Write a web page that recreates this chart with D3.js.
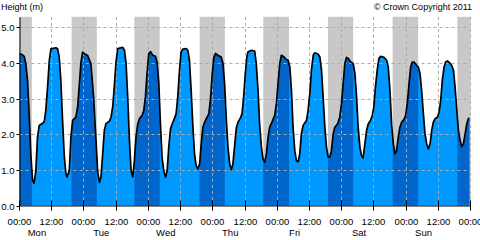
<!DOCTYPE html>
<html>
<head>
<meta charset="utf-8">
<script src="https://cdn.jsdelivr.net/npm/d3@7"></script>
<style>
  html, body { margin: 0; padding: 0; background: #fff; }
  svg { display: block; font-family: "Liberation Sans", Arial, sans-serif; }
</style>
</head>
<body>
<div id="chart"></div>
<script>
// tide curve, hours from Mon 00:00 and height in metres
const tideHours = [
  0, 1.0, 1.75, 2.35, 3.0, 3.6, 4.2, 4.85, 5.4, 6.1, 6.7, 7.35, 8.6, 9.2, 9.8, 10.45, 11.1, 11.7,
  13.55, 14.2, 14.8, 15.4, 16.05, 16.7, 17.3, 17.7, 18.55, 19.15, 19.8, 21.0, 21.65, 22.3, 22.9, 23.5,
  24.15, 25.4, 26.6, 27.6, 28.5, 29.1, 29.75, 30.35, 31.0, 31.6, 32.2, 33.5, 34.1, 34.7, 35.3, 35.95, 36.6,
  38.45, 39.1, 39.7, 40.3, 40.95, 41.55, 42.2, 42.8, 43.4, 44.05, 44.7, 45.65, 46.3, 46.9, 47.5, 48.15,
  48.8, 49.65, 50.65, 51.25, 51.9, 52.5, 53.1, 53.75, 54.4, 55.0, 55.6, 56.25, 56.85, 57.7, 58.35, 58.95,
  59.6, 60.2, 60.85, 62.1, 62.7, 63.3, 63.95, 64.6, 65.2, 65.8, 66.45, 67.1, 67.7, 68.3, 68.95, 69.9,
  70.55, 71.2, 71.8, 72.4, 73.05, 73.9, 75.15, 75.8, 76.4, 77.0, 77.65, 78.3, 78.9, 79.5, 80.2, 80.8,
  81.4, 82.3, 82.9, 83.5, 84.1, 84.7, 85.1, 86.35, 87.6, 88.2, 88.85, 89.45, 90.1, 90.7, 91.35, 91.95,
  92.6, 93.2, 94.05, 95.05, 95.7, 96.3, 96.95, 97.55, 98.55, 99.4, 100.05, 100.7, 101.3, 101.9, 102.55,
  103.15, 103.8, 104.4, 105.0, 105.65, 106.9, 107.5, 108.15, 108.75, 109.4, 110.0, 111.25, 111.9, 112.5,
  113.1, 113.75, 114.35, 115.0, 115.6, 116.2, 116.85, 117.45, 118.45, 119.3, 119.95, 120.55, 121.2,
  121.8, 122.45, 123.45, 124.3, 124.95, 125.55, 126.15, 126.8, 127.4, 128.0, 128.65, 129.3, 129.9,
  130.75, 131.4, 132.0, 132.6, 133.25, 133.9, 134.5, 135.5, 136.15, 136.75, 137.35, 138.0, 138.6,
  139.25, 139.85, 140.45, 141.1, 141.7, 142.35, 143.2, 143.85, 144.45, 145.1, 145.7, 146.3, 146.95,
  147.95, 148.55, 149.2, 149.8, 150.45, 151.05, 151.7, 152.3, 152.95, 153.55, 154.15, 154.8, 155.65,
  156.3, 156.9, 157.5, 158.15, 158.75, 159.4, 160.4, 161.0, 161.65, 162.25, 162.9, 163.5, 164.1,
  164.75, 165.35, 166.0, 166.6, 167.2, 167.6
]
const tideHeights = [
  4.26, 4.24, 4.19, 3.98, 3.51, 2.58, 1.46, 0.72, 0.62, 0.98, 1.92, 2.25, 2.31, 2.35, 2.67, 3.32, 4.07, 4.40,
  4.43, 4.40, 4.17, 3.51, 2.39, 1.36, 0.89, 0.80, 0.98, 1.92, 2.39, 2.48, 2.76, 3.42, 4.03, 4.31,
  4.26, 4.21, 3.98, 3.05, 1.83, 0.98, 0.65, 0.80, 1.46, 2.11, 2.30, 2.37, 2.48, 2.76, 3.33, 4.03, 4.41,
  4.44, 4.36, 3.99, 3.05, 1.83, 1.00, 0.80, 1.26, 1.92, 2.29, 2.44, 2.53, 2.67, 3.05, 3.70, 4.27,
  4.32, 4.22, 4.19, 4.03, 3.42, 2.29, 1.36, 0.98, 0.79, 0.98, 1.64, 2.15, 2.29, 2.44, 2.58, 3.05,
  3.80, 4.32, 4.39, 4.41, 4.36, 4.08, 3.23, 2.20, 1.45, 1.12, 1.03, 1.17, 1.73, 2.20, 2.34, 2.48,
  2.58, 3.05, 3.70, 4.17, 4.27, 4.22, 4.17, 3.99, 3.42, 2.48, 1.64, 1.17, 1.00, 1.17, 1.73, 2.20,
  2.34, 2.46, 2.58, 3.05, 3.70, 4.17, 4.31, 4.36, 4.34, 3.99, 3.23, 2.29, 1.64, 1.31, 1.21, 1.45,
  1.92, 2.20, 2.34, 2.53, 2.86, 3.42, 3.99, 4.22, 4.17, 4.10, 4.08, 3.89, 3.23, 2.20, 1.54,
  1.26, 1.23, 1.45, 2.01, 2.25, 2.39, 2.67, 3.14, 3.80, 4.22, 4.29, 4.25, 4.17, 3.80,
  3.05, 2.20, 1.64, 1.36, 1.36, 1.54, 2.01, 2.20, 2.29, 2.48, 2.86, 3.42, 3.99,
  4.16, 4.13, 4.03, 3.99, 3.70, 3.05, 2.20, 1.64, 1.40, 1.33, 1.73, 2.11, 2.29,
  2.39, 2.53, 2.77, 3.33, 3.80, 4.13, 4.19, 4.17, 4.13, 4.08, 3.89, 3.23, 2.29,
  1.73, 1.45, 1.54, 1.92, 2.20, 2.34, 2.41, 2.53, 2.86, 3.42, 3.89, 4.03, 4.03,
  3.94, 3.89, 3.70, 3.23, 2.58, 2.01, 1.73, 1.59, 1.73, 2.11, 2.34, 2.44, 2.48,
  2.62, 2.95, 3.52, 3.89, 4.03, 4.06, 3.99, 3.94, 3.80, 3.33, 2.67, 2.11, 1.83,
  1.66, 1.73, 2.01, 2.29, 2.44, 2.46
]

// darkness, hours from Mon 00:00
const nightStart = [0, 19.4, 42.8, 67.1, 90.8, 114.9, 139.0, 163.1]
const nightEnd = [4.6, 28.8, 52.2, 76.5, 100.4, 124.3, 148.5, 168]

const dayNames = ['Mon', 'Tue', 'Wed', 'Thu', 'Fri', 'Sat', 'Sun']
const tickHours = d3.range(0, 169, 12)
const yTicks = [0, 1, 2, 3, 4, 5]

const W = 480
const H = 240

const x = d3.scaleLinear().domain([0, 168]).range([19.5, 470.5])
const y = d3.scaleLinear().domain([0, 5.3]).range([205.5, 16.8])

const data = tideHours.map((t, i) => ({ t: t, h: tideHeights[i] }))
const nights = nightStart.map((s, i) => ({ s: s, e: nightEnd[i] }))

const svg = d3.select('#chart').append('svg')
    .attr('width', W)
    .attr('height', H)

// grey night bands behind everything
svg.append('g')
  .selectAll('rect')
  .data(nights)
  .join('rect')
    .attr('x', d => x(d.s))
    .attr('width', d => x(d.e) - x(d.s))
    .attr('y', y(5.3))
    .attr('height', y(0) - y(5.3))
    .attr('fill', '#c8c8c8')

const area = d3.area()
    .x(d => x(d.t))
    .y0(y(0))
    .y1(d => y(d.h))

const line = d3.line()
    .x(d => x(d.t))
    .y(d => y(d.h))

svg.append('clipPath')
    .attr('id', 'under')
  .append('path')
    .attr('d', area(data))

svg.append('path')
    .attr('d', area(data))
    .attr('fill', '#0099ff')

// night part of the water in darker blue
svg.append('g')
    .attr('clip-path', 'url(#under)')
  .selectAll('rect')
  .data(nights)
  .join('rect')
    .attr('x', d => x(d.s))
    .attr('width', d => x(d.e) - x(d.s))
    .attr('y', y(5.3))
    .attr('height', y(0) - y(5.3))
    .attr('fill', '#0066cc')

// dashed grid
const grid = svg.append('g')
    .attr('stroke', '#aaaaaa')
    .attr('stroke-width', 1)
    .attr('stroke-dasharray', '3,3')
grid.selectAll('.hg')
  .data(yTicks.slice(1))
  .join('line')
    .attr('x1', x(0)).attr('x2', x(168))
    .attr('y1', d => Math.round(y(d)) + 0.5)
    .attr('y2', d => Math.round(y(d)) + 0.5)
grid.selectAll('.vg')
  .data(tickHours.slice(1))
  .join('line')
    .attr('x1', d => Math.round(x(d) - 0.5) + 0.5)
    .attr('x2', d => Math.round(x(d) - 0.5) + 0.5)
    .attr('y1', y(5.3)).attr('y2', y(0))

svg.append('path')
    .attr('d', line(data))
    .attr('fill', 'none')
    .attr('stroke', '#000')
    .attr('stroke-width', 1.7)
    .attr('stroke-linejoin', 'round')

// axes
const yAxis = svg.append('g')
    .attr('transform', `translate(${x(0)},0)`)
    .call(d3.axisLeft(y).tickValues(yTicks).tickSize(3).tickSizeOuter(0).tickPadding(2)
      .tickFormat(d3.format('.1f')))
yAxis.selectAll('text').attr('font-size', 9.5).attr('fill', '#000')
yAxis.selectAll('.tick').attr('transform', d => `translate(0,${Math.round(y(d)) + 0.5})`)

const xAxis = svg.append('g')
    .attr('transform', `translate(0,${y(0)})`)
    .call(d3.axisBottom(x).tickValues(tickHours).tickSize(5).tickSizeOuter(0)
      .tickFormat(d => d % 24 === 0 ? '00:00' : '12:00'))
xAxis.selectAll('.tick').attr('transform', d => `translate(${Math.round(x(d) - 0.5) + 0.5},0)`)
xAxis.selectAll('.tick line').attr('y1', -5).attr('y2', 5)
xAxis.selectAll('text')
    .attr('y', 19.5)
    .attr('dy', null)
    .attr('font-size', 9.5)
    .attr('fill', '#000')
svg.selectAll('.domain').attr('stroke', '#000')

svg.append('g')
  .selectAll('text')
  .data(dayNames)
  .join('text')
    .attr('x', (d, i) => x(i * 24 + 6.5))
    .attr('y', 235.5)
    .attr('text-anchor', 'middle')
    .attr('font-size', 9.5)
    .text(d => d)

svg.append('text')
    .attr('x', 1)
    .attr('y', 9.5)
    .attr('font-size', 9)
    .text('Height (m)')

svg.append('text')
    .attr('x', 472)
    .attr('y', 9.5)
    .attr('font-size', 9)
    .attr('text-anchor', 'end')
    .text('© Crown Copyright 2011')
</script>
</body>
</html>
